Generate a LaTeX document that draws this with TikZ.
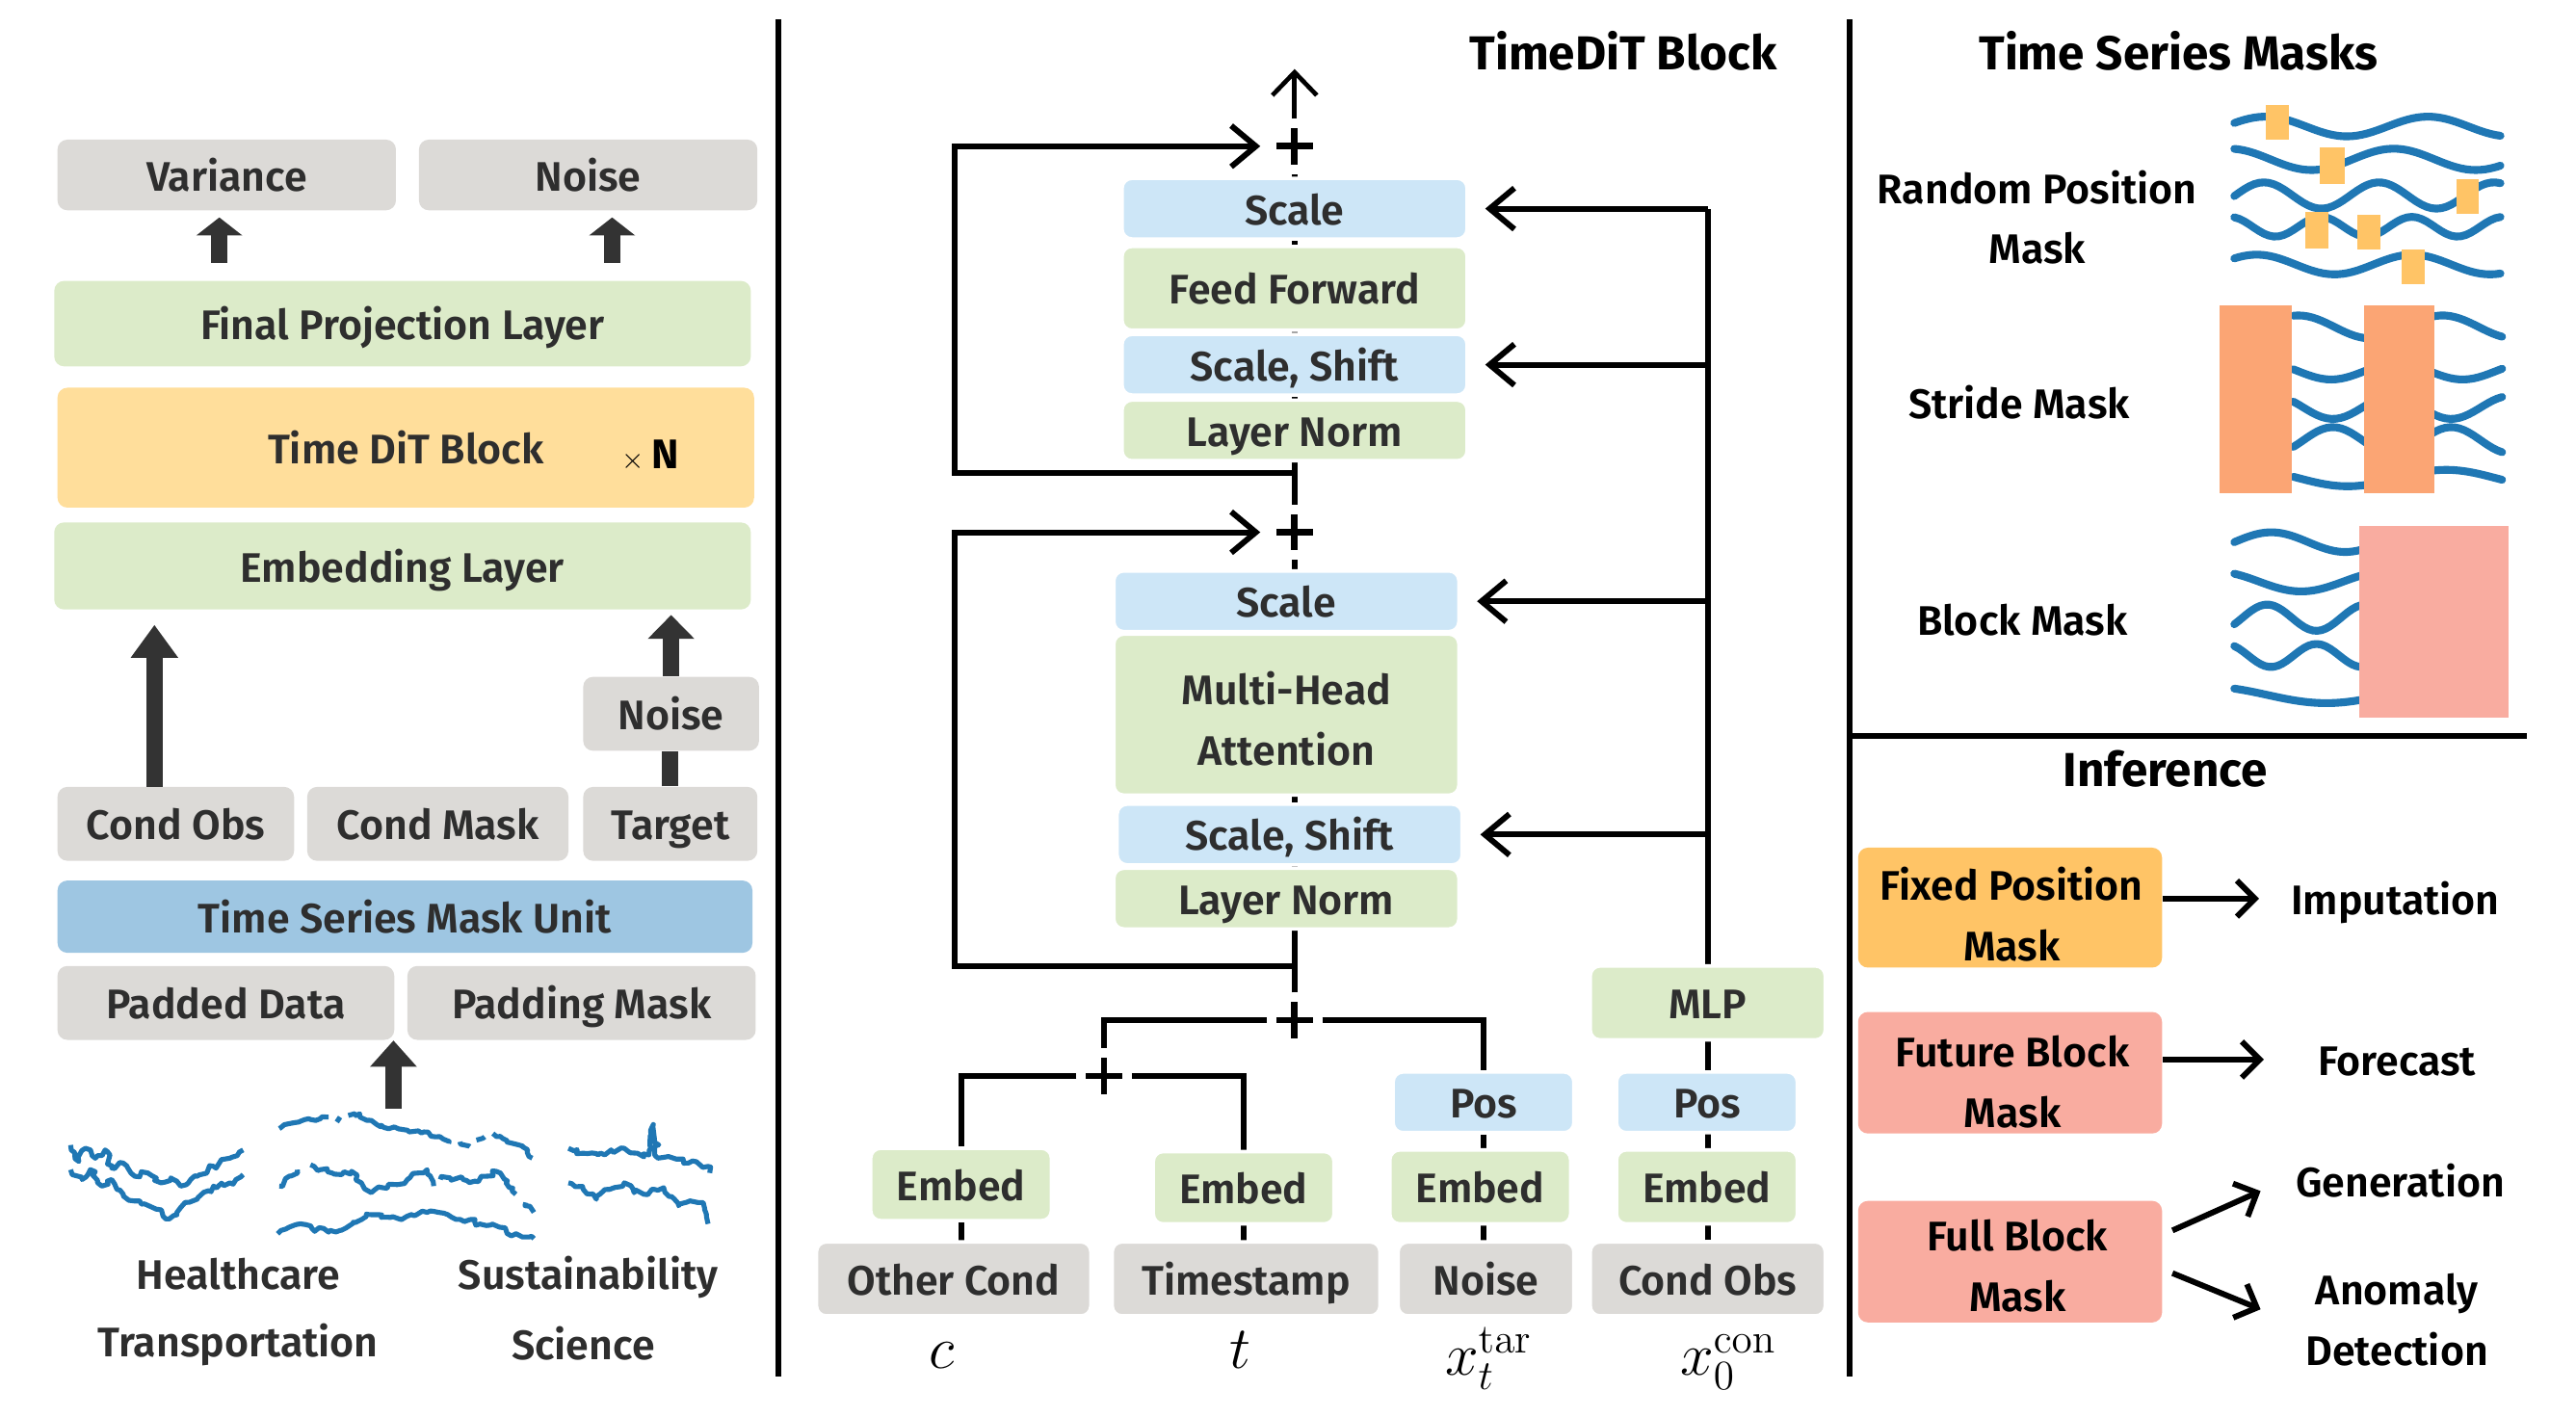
\documentclass[tikz,border=0pt]{standalone}
\usepackage[no-math]{fontspec}
\setmainfont{Fira Sans}[UprightFont={* SemiBold},BoldFont={* Bold}]
\usetikzlibrary{arrows.meta,calc,decorations.pathmorphing}

\definecolor{boxgray}{HTML}{DCDAD7}
\definecolor{boxgreen}{HTML}{DCEBC9}
\definecolor{boxorange}{HTML}{FFDE9B}
\definecolor{boxblue}{HTML}{9EC6E2}
\definecolor{scaleblue}{HTML}{CDE6F7}
\definecolor{tsblue}{HTML}{1F77B4}
\definecolor{maskyellow}{HTML}{FFC466}
\definecolor{stridered}{HTML}{FBA574}
\definecolor{blockpink}{HTML}{F9ACA0}
\definecolor{darktxt}{HTML}{2E2E2E}
\definecolor{arrowgray}{HTML}{333333}

\newcommand{\boxfont}{\fontsize{14.3}{21}\selectfont}
\newcommand{\headfont}{\fontsize{16.5}{21}\selectfont\bfseries}
\newcommand{\topstrut}{\rule{0pt}{16pt}}
\newcommand{\botstrut}{\rule[-5pt]{0pt}{0pt}}

\pgfdeclarelayer{bg}
\pgfsetlayers{bg,main}

\tikzset{
  box/.style={rounded corners=1.2mm, inner sep=0pt, align=center, font=\boxfont, text=darktxt,
    execute at begin node=\topstrut, execute at end node=\botstrut},
  sz/.style 2 args={minimum width={#1*0.2mm}, minimum height={#2*0.2mm}},
  graybox/.style={box, fill=boxgray},
  greenbox/.style={box, fill=boxgreen},
  sclbox/.style={box, fill=scaleblue},
  midbox/.style={draw=white, line width=1.2pt},
  lbl/.style={inner sep=0pt, align=center, font=\boxfont,
    execute at begin node=\topstrut, execute at end node=\botstrut},
  plus/.style={circle, fill=white, inner sep=0pt, minimum size=6.6mm,
    path picture={
      \draw[line width=0.8mm] ($(path picture bounding box.center)+(-11,0)$) -- ($(path picture bounding box.center)+(11,0)$)
        ($(path picture bounding box.center)+(0,-11)$) -- ($(path picture bounding box.center)+(0,11)$);
    }},
  conn/.style={line width=0.7mm},
  res/.style={conn, -{Straight Barb[length=3mm,width=5mm]}, shorten >=0.8mm},
  cond/.style={conn, -{Straight Barb[length=3mm,width=5mm]}, shorten >=2mm},
  outarr/.style={line width=0.55mm, -{Straight Barb[length=2.8mm,width=5.4mm]}},
  infarr/.style={line width=0.7mm, -{Straight Barb[length=2.2mm,width=4.4mm]}},
  blk/.style={draw=arrowgray, line width=2mm},
  blkarr/.style={blk, -{Triangle[length=#1,width=5.5mm]}},
  blkarr/.default=2.2mm,
  tsline/.style={tsblue, line width=0.6mm, line join=round, decorate,
    decoration={random steps, segment length=0.5mm, amplitude=0.35mm}},
  maskline/.style={tsblue, line width=0.95mm, line join=round, line cap=round, decorate,
    decoration={random steps, segment length=0.6mm, amplitude=0.13mm}},
  divider/.style={line width=0.7mm},
}

\begin{document}
\begin{tikzpicture}[x=0.2mm, y=-0.2mm]
  \useasboundingbox (0,0) rectangle (1568,862);
  \pgfmathsetseed{42}

  % left panel: model overview
  \node[graybox, sz={206}{43}] (var) at (138,106.5) {Variance};
  \node[graybox, sz={206}{43}] (noiseo) at (358,106.5) {Noise};
  \node[greenbox, sz={424}{52}] (fpl) at (245,197) {Final Projection Layer};
  \node[box, fill=boxorange, sz={424}{73}] (tdb) at (247,272.5) {Time DiT Block};
  \node[inner sep=0pt, text=black, font=\boxfont] (xn) at (396,277) {{\fontsize{10}{11}\selectfont$\times$}\,{\bfseries N}};
  \node[greenbox, sz={424}{53}] (embl) at (245,344.5) {Embedding Layer};
  \node[graybox, sz={107}{45}] (noisei) at (408.5,434.5) {Noise};
  \node[graybox, sz={144}{45}] (cobs) at (107,501.5) {Cond Obs};
  \node[graybox, sz={159}{45}] (cmask) at (266.5,501.5) {Cond Mask};
  \node[graybox, sz={106}{45}] (target) at (408,501.5) {Target};
  \node[box, fill=boxblue, sz={423}{44}] (tsmu) at (246.5,558) {Time Series Mask Unit};
  \node[graybox, sz={205}{45}] (padd) at (137.5,610.5) {Padded Data};
  \node[graybox, sz={212}{45}] (padm) at (354,610.5) {Padding Mask};

  \coordinate (va) at (133.5,160);
  \coordinate (na) at (372.6,160);
  \coordinate (ca) at (94,479);
  \coordinate (da) at (239.5,675);
  \draw[blkarr, shorten >=0.8mm] (va) -- (va |- var.south);
  \draw[blkarr, shorten >=0.8mm] (na) -- (na |- noiseo.south);
  \draw[blkarr=4mm, shorten >=1.8mm] (ca) -- (ca |- embl.south);
  \draw[blkarr=2.9mm, shorten >=0.6mm] (noisei.north) -- (noisei.north |- embl.south);
  \draw[blk] (target.north) -- (target.north |- noisei.south);
  \draw[blkarr=3.2mm] (da) -- (da |- padd.south);

  % data sets
  \draw[tsline] plot coordinates {(43,697) (48,707) (52,699) (58,705) (64,700) (68,711) (75,708) (82,716) (90,714) (98,720) (104,717) (110,722) (120,716) (130,710) (140,705) (148,700)};
  \draw[tsline] plot coordinates {(43,712) (50,718) (55,712) (62,722) (68,718) (75,728) (85,731) (95,736) (103,742) (110,735) (120,730) (130,722) (140,720) (148,715)};
  \draw[tsline] plot coordinates {(170,687) (176,684) (182,683) (188,681) (195,681) (200,680)};
  \draw[tsline] plot coordinates {(205,683) (207,680)};
  \draw[tsline] plot coordinates {(212,679) (219,678) (226,682) (232,685) (240,686) (248,688) (258,689) (265,692) (273,696)};
  \draw[tsline] plot coordinates {(280,695) (286,698)};
  \draw[tsline] plot coordinates {(290,694) (295,692)};
  \draw[tsline] plot coordinates {(300,690) (306,693) (312,696) (318,698) (324,705)};
  \draw[tsline] plot coordinates {(170,722) (176,716) (181,712)};
  \draw[tsline] plot coordinates {(189,709) (195,712) (202,714) (208,715) (214,713) (220,720) (226,726) (233,723) (240,721) (248,718) (255,714) (260,712) (264,722)};
  \draw[tsline] plot coordinates {(268,718) (274,717) (282,718) (289,719) (296,716) (302,713) (308,720) (314,727)};
  \draw[tsline] plot coordinates {(320,732) (325,738)};
  \draw[tsline] plot coordinates {(169,751) (176,747) (183,745) (190,748) (200,750) (207,749) (215,744) (223,739) (232,741) (243,742) (252,740) (260,738) (267,738) (275,741) (289,744) (296,746) (304,747) (312,752) (318,753) (325,754)};
  \draw[tsline] plot coordinates {(346,699) (355,702) (364,703) (372,700) (380,699) (388,702) (395,703) (397.7,684.5) (400.5,705) (410,705) (419,708) (426,709) (431,710) (432,714)};
  \draw[tsline] plot coordinates {(346,720) (355,724) (363,730) (371,724) (380,720) (386,726) (392,727) (398,724) (404,723) (413,734) (420,731) (428,732) (431,745)};

  \node[lbl, text=darktxt] (hc) at (145,775) {Healthcare};
  \node[lbl, text=darktxt] (tr) at (145,816) {Transportation};
  \node[lbl, text=darktxt] (su) at (358,775) {Sustainability};
  \node[lbl, text=darktxt] (sci) at (355,818) {Science};

  \draw[divider] (474,12) -- (474,838);

  % middle panel: TimeDiT block
  \node[lbl, font=\headfont] (mtitle) at (988,33) {TimeDiT Block};

  \node[sclbox, midbox, sz={210}{28}] (sc2) at (788,127) {Scale};
  \node[greenbox, midbox, sz={210}{51}] (ff) at (788,175.5) {Feed Forward};
  \node[sclbox, midbox, sz={210}{28}] (ss2) at (788,222) {Scale, Shift};
  \node[greenbox, midbox, sz={210}{28}] (ln2) at (788,262) {Layer Norm};
  \node[sclbox, midbox, sz={210}{28}] (sc1) at (783,366) {Scale};
  \node[greenbox, midbox, sz={210}{98}] (mha) at (783,435) {};
  \node[lbl, text=darktxt] (mhatxt) at (783,441.5) {Multi-Head\\Attention};
  \node[sclbox, midbox, sz={210}{28}] (ss1) at (785,508) {Scale, Shift};
  \node[greenbox, midbox, sz={210}{28}] (ln1) at (783,547) {Layer Norm};

  \node[plus] (p1) at (788,89) {};
  \node[plus] (pm) at (788,324) {};
  \node[plus] (pb) at (788,621) {};
  \node[plus] (p2) at (672,655) {};
  \coordinate (out) at (788,42);
  \coordinate (r1) at (788,288);
  \coordinate (r2) at (788,588);

  \node[greenbox, midbox, sz={110}{44}] (embc) at (585,721) {Embed};
  \node[graybox, midbox, sz={167}{45}] (othc) at (580.5,778.5) {Other Cond};
  \node[greenbox, midbox, sz={110}{44}] (embt) at (757,723) {Embed};
  \node[graybox, midbox, sz={163}{45}] (tstamp) at (758.5,778.5) {Timestamp};
  \node[sclbox, midbox, sz={110}{36}] (posn) at (903,671) {Pos};
  \node[greenbox, midbox, sz={110}{45}] (embn) at (901,722.5) {Embed};
  \node[graybox, midbox, sz={107}{45}] (noise) at (904.5,778.5) {Noise};
  \node[sclbox, midbox, sz={110}{36}] (posc) at (1039,671) {Pos};
  \node[greenbox, midbox, sz={110}{45}] (embo) at (1039,722.5) {Embed};
  \node[graybox, midbox, sz={143}{45}] (condo) at (1039.5,778.5) {Cond Obs};
  \node[greenbox, midbox, sz={143}{45}] (mlp) at (1039.5,610.5) {MLP};

  \node[inner sep=0pt, anchor=base, font=\huge] (mc) at (573,833) {$c$};
  \node[inner sep=0pt, anchor=base, font=\huge] (mt) at (755,833) {$t$};
  \node[inner sep=0pt, anchor=base, font=\huge] (mx) at (906,837) {$x_t^{\mathrm{tar}}$};
  \node[inner sep=0pt, anchor=base, font=\huge] (mo) at (1052,837) {$x_0^{\mathrm{con}}$};

  \begin{pgfonlayer}{bg}
    \draw[conn] (pb) -- (pm);
    \draw[conn] (pm) -- (p1);
    \draw[outarr] (p1) -- (out);
    \draw[res] (r1) -- ++(-207,0) |- (p1);
    \draw[res] (r2) -- ++(-207,0) |- (pm);
    \draw[conn] (pb) -| (p2);
    \draw[conn] (pb) -| (posn);
    \draw[conn] (p2) -| (embc);
    \draw[conn] (p2) -| (embt);
    \draw[conn] (embc) -- (embc |- othc);
    \draw[conn] (embt) -- (embt |- tstamp);
    \draw[conn] (posn) -- (posn |- noise);
    \draw[conn] (condo) -- (mlp);
    \draw[conn] (mlp) -- (mlp |- sc2);
    \draw[cond] (mlp |- sc2) -- (sc2);
    \draw[cond] (mlp |- ss2) -- (ss2);
    \draw[cond] (mlp |- sc1) -- (sc1);
    \draw[cond] (mlp |- ss1) -- (ss1);
  \end{pgfonlayer}

  \draw[divider] (1126,12) -- (1126,838);
  \draw[divider] (1126,448) -- (1538,448);

  % right panel: masks
  \node[lbl, font=\headfont] (rtitle) at (1326,33) {Time Series Masks};
  \node[lbl, text=black] (rpm) at (1240,136.5) {Random Position\\Mask};
  \node[lbl, text=black] (stm) at (1229,245) {Stride Mask};
  \node[lbl, text=black] (blm) at (1231,377) {Block Mask};

  \draw[maskline] plot[domain=0:162, samples=55] ({1360+\x}, {77-6*cos(3.64*(\x-19))});
  \draw[maskline] plot[domain=0:162, samples=55] ({1360+\x}, {97+6.5*cos(3.6*(\x-47))});
  \draw[maskline] plot[domain=0:162, samples=55] ({1360+\x}, {119+8*cos(5.14*(\x-53))});
  \draw[maskline] plot[domain=0:162, samples=55] ({1360+\x}, {138+6*cos(6.5*(\x-25))});
  \draw[maskline] plot[domain=0:162, samples=55] ({1360+\x}, {161+6*cos(3.8*(\x-61))});
  \fill[maskyellow] (1379,64) rectangle (1393,85);
  \fill[maskyellow] (1412,90) rectangle (1427,112);
  \fill[maskyellow] (1495,109) rectangle (1509,130);
  \fill[maskyellow] (1403,129) rectangle (1417,151);
  \fill[maskyellow] (1435,131) rectangle (1449,152);
  \fill[maskyellow] (1462,152) rectangle (1476,173);

  \draw[maskline] plot[domain=0:127, samples=45] ({1396+\x}, {199-7*cos(4.1*(\x-3))});
  \draw[maskline] plot[domain=0:127, samples=45] ({1396+\x}, {226+5*cos(4.5*(\x-23))});
  \draw[maskline] plot[domain=0:127, samples=45] ({1396+\x}, {248+7*cos(5*(\x-24))});
  \draw[maskline] plot[domain=0:127, samples=45] ({1396+\x}, {268-8*cos(5*(\x-24))});
  \draw[maskline] plot[domain=0:127, samples=45] ({1396+\x}, {291+5*sin(3*(\x-3))});
  \fill[stridered] (1351,186) rectangle (1395,300);
  \fill[stridered] (1439,186) rectangle (1482,300);

  \draw[maskline] plot[domain=0:77, samples=30] ({1360+\x}, {330-6*sin(4*\x)});
  \draw[maskline] plot[domain=0:77, samples=30] ({1360+\x}, {354+6*sin(3.5*(\x-15))});
  \draw[maskline] plot[domain=0:77, samples=30] ({1360+\x}, {376+8*cos(6*(\x-50))});
  \draw[maskline] plot[domain=0:77, samples=30] ({1360+\x}, {399-7*cos(6.5*(\x-50))});
  \draw[maskline] plot[domain=0:77, samples=30] ({1360+\x}, {423+5*sin(2.5*(\x-20))});
  \fill[blockpink] (1436,320) rectangle (1527,437);

  % right panel: inference
  \node[lbl, font=\headfont] (inf) at (1318,469) {Inference};
  \node[box, fill=maskyellow, sz={185}{73}] (fixed) at (1223.5,552.5) {};
  \node[box, fill=blockpink, sz={185}{74}] (future) at (1223.5,653) {};
  \node[box, fill=blockpink, sz={185}{74}] (full) at (1223.5,768) {};
  \node[lbl, text=black] (fixedtxt) at (1224.5,560.5) {Fixed Position\\Mask};
  \node[lbl, text=black] (futuretxt) at (1225,663) {Future Block\\Mask};
  \node[lbl, text=black] (fulltxt) at (1228,774.5) {Full Block\\Mask};

  \node[lbl, text=black] (imp) at (1458,547) {Imputation};
  \node[lbl, text=black] (fc) at (1459,645) {Forecast};
  \node[lbl, text=black] (gen) at (1461,719) {Generation};
  \node[lbl, text=black] (ano) at (1459,807.5) {Anomaly\\Detection};

  \coordinate (t1) at (1375,547);
  \coordinate (t2) at (1378,645);
  \coordinate (t3) at (1376,725);
  \coordinate (t4) at (1376,797);
  \draw[infarr] (fixed.east |- t1) -- (t1);
  \draw[infarr] (future.east |- t2) -- (t2);
  \draw[infarr] ($(full.east)+(6,-19)$) -- (t3);
  \draw[infarr] ($(full.east)+(6,7)$) -- (t4);
\end{tikzpicture}
\end{document}
